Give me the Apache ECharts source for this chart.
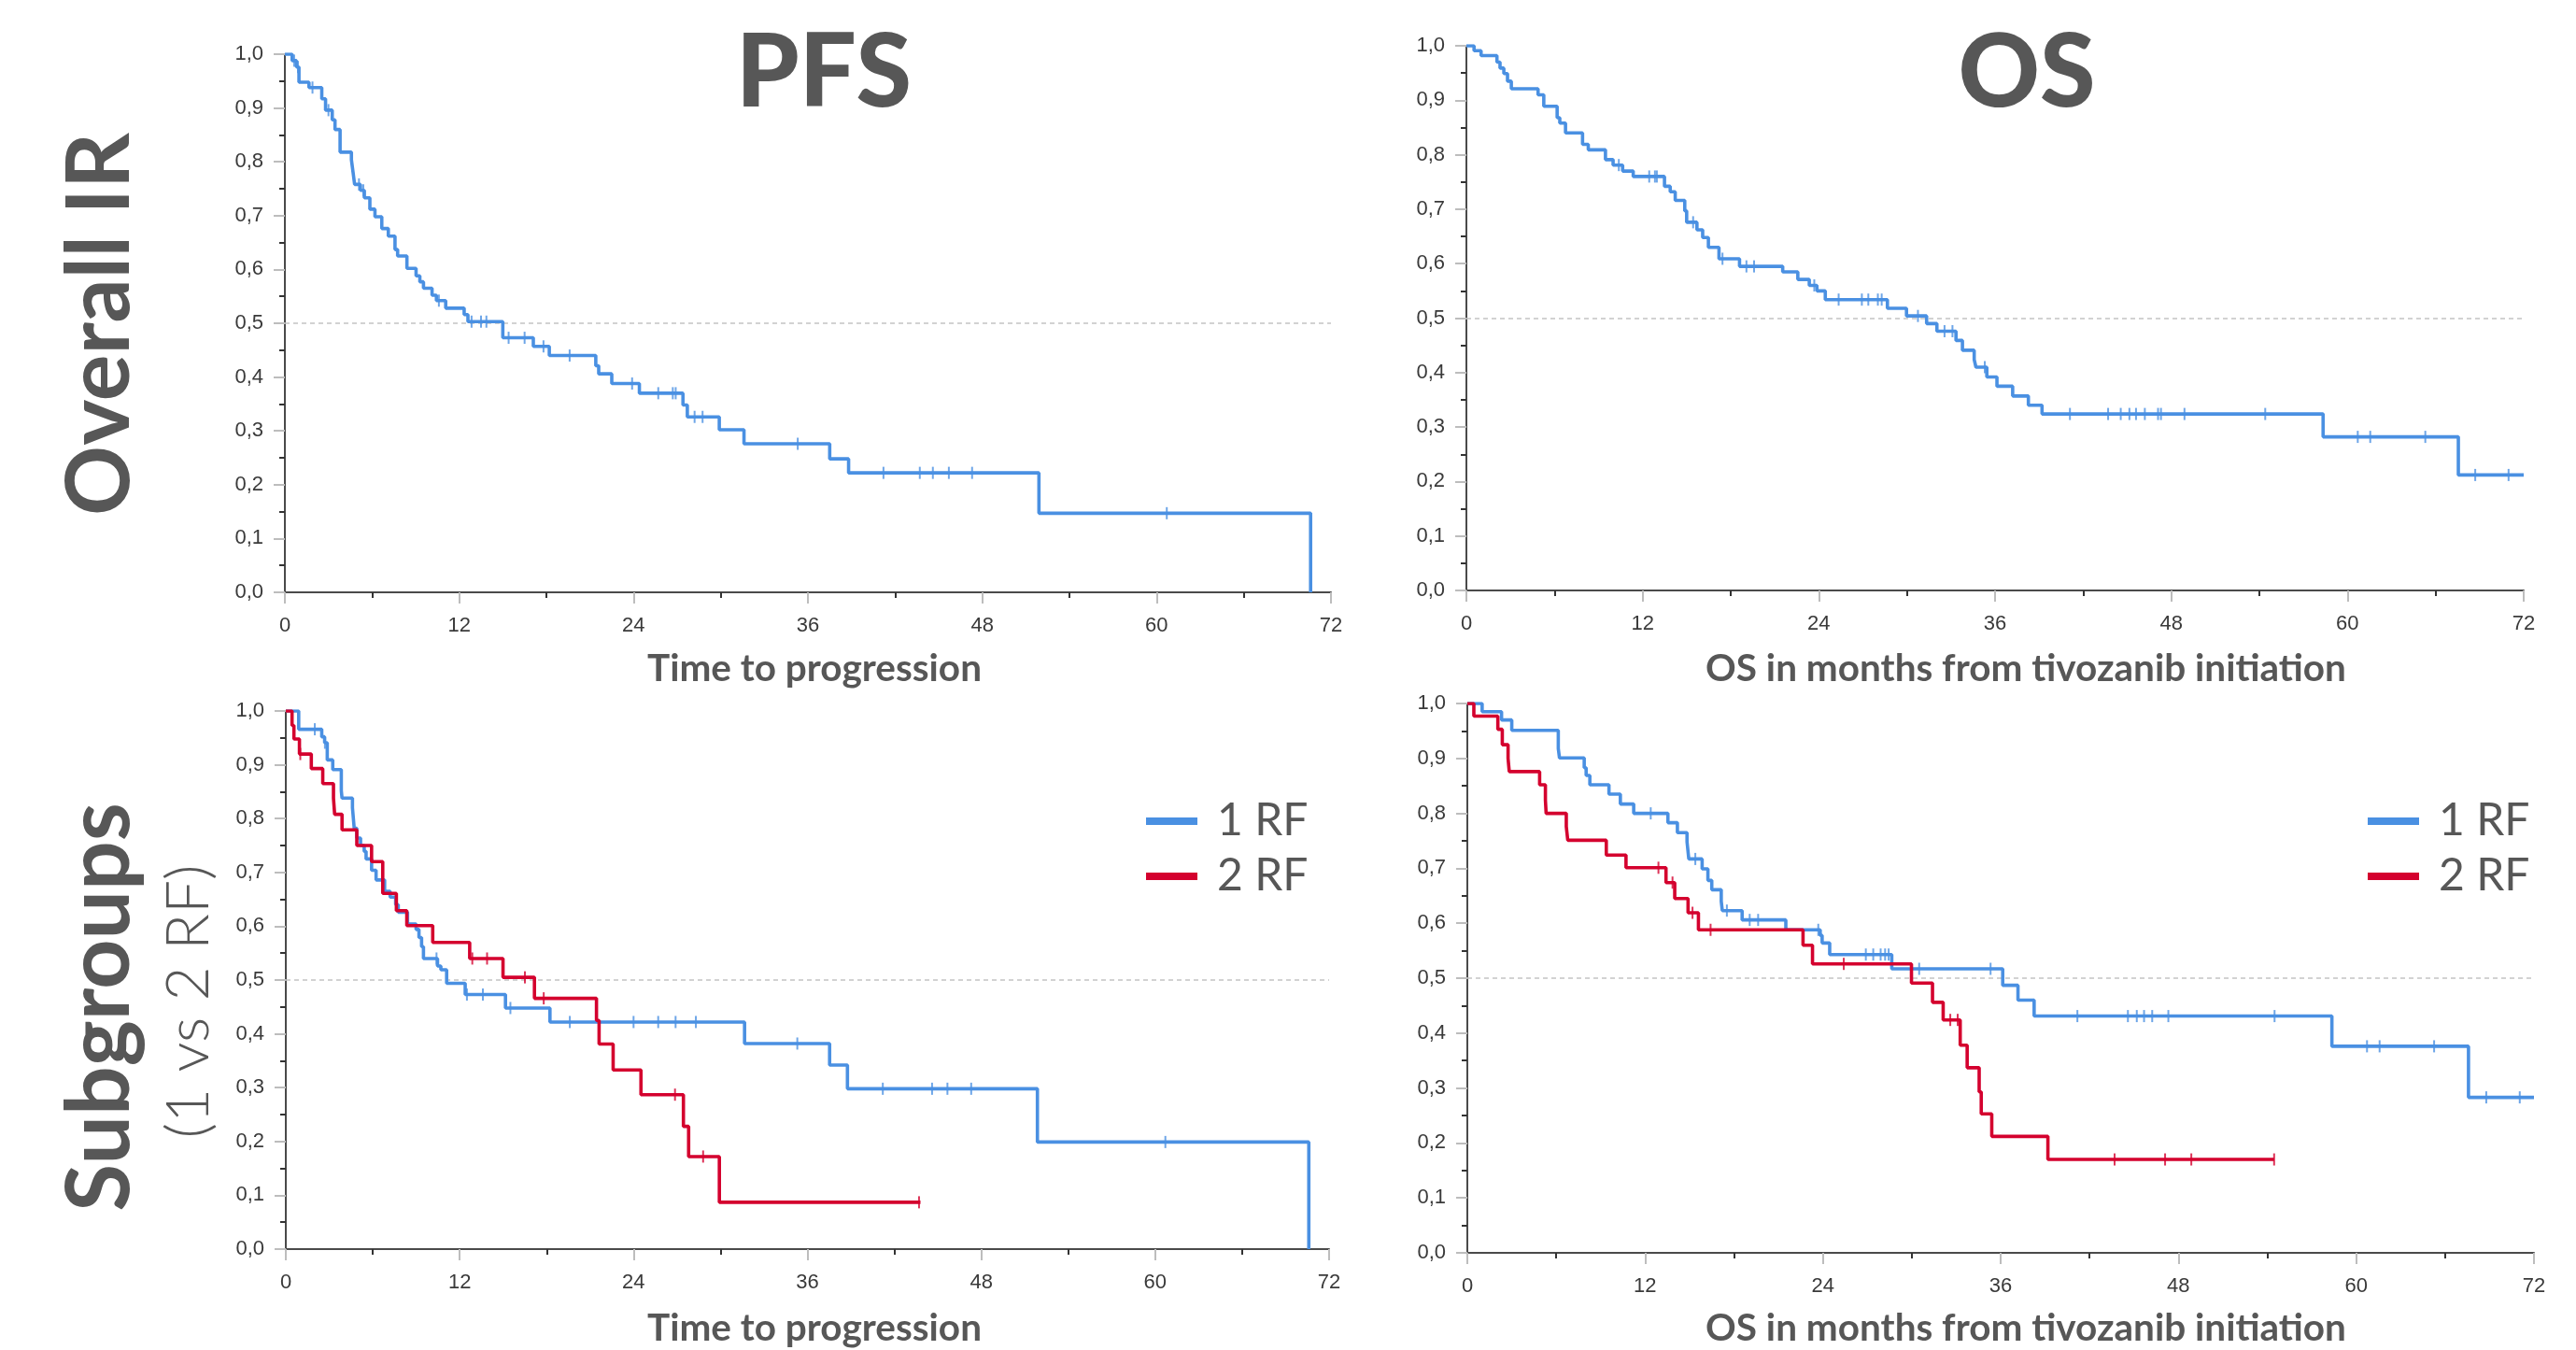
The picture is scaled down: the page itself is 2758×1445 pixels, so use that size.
<!DOCTYPE html>
<html>
<head>
<meta charset="utf-8">
<script src="https://cdn.jsdelivr.net/npm/echarts@6/dist/echarts.min.js"></script>
<style>
html,body{margin:0;padding:0;background:#fff;}
#chart{width:2758px;height:1445px;}
</style>
</head>
<body>
<div id="chart"></div>
<script>
// ---------------- DATA ----------------
const xTicks = [0, 12, 24, 36, 48, 60, 72];
const yTicks = [0, 0.1, 0.2, 0.3, 0.4, 0.5, 0.6, 0.7, 0.8, 0.9, 1.0];

// Overall IR – PFS (months, survival after each step)
const pfsAllTime = [0, 0.5, 0.8, 0.97, 1.66, 2.54, 2.8, 3.26, 3.45, 3.8, 4.58, 4.7, 4.8, 5.2, 5.47, 5.85, 6.2, 6.67, 7.12, 7.58, 7.76, 8.4, 9.03, 9.29, 9.54, 10.13, 10.43, 11.07, 12.34, 12.6, 15.0, 17.1, 18.2, 21.4, 21.6, 22.5, 24.4, 27.4, 27.7, 29.9, 31.6, 37.5, 38.8, 51.9, 70.6];
const pfsAllSurv = [1, 0.988, 0.976, 0.948, 0.938, 0.917, 0.896, 0.878, 0.86, 0.818, 0.804, 0.779, 0.758, 0.747, 0.733, 0.712, 0.698, 0.676, 0.662, 0.637, 0.625, 0.602, 0.588, 0.577, 0.565, 0.552, 0.542, 0.528, 0.516, 0.503, 0.473, 0.457, 0.44, 0.421, 0.406, 0.388, 0.37, 0.348, 0.326, 0.302, 0.276, 0.248, 0.222, 0.147, 0];
const pfsAllCens = [0.64, 0.9, 1.9, 3.0, 5.1, 5.4, 10.6, 12.85, 13.5, 13.87, 15.4, 16.5, 17.8, 19.6, 23.9, 25.7, 26.7, 26.9, 28.2, 28.75, 35.3, 41.2, 43.7, 44.6, 45.7, 47.3, 60.7];

// Overall IR – OS
const osAllTime = [0, 0.52, 1.0, 2.08, 2.29, 2.55, 2.8, 3.06, 4.88, 5.27, 6.18, 6.36, 6.75, 7.91, 8.3, 9.47, 9.99, 10.64, 11.36, 13.49, 13.88, 14.22, 14.87, 15.0, 15.7, 16.09, 16.48, 17.2, 18.6, 21.54, 22.57, 23.35, 23.87, 24.44, 28.67, 29.97, 31.34, 32.04, 33.34, 33.78, 34.58, 34.7, 35.44, 36.13, 37.2, 38.27, 39.2, 58.34, 67.55, 72];
const osAllSurv = [1, 0.991, 0.982, 0.97, 0.959, 0.949, 0.935, 0.921, 0.91, 0.889, 0.868, 0.858, 0.84, 0.819, 0.809, 0.791, 0.781, 0.77, 0.76, 0.742, 0.732, 0.716, 0.697, 0.676, 0.662, 0.648, 0.63, 0.609, 0.595, 0.585, 0.571, 0.56, 0.55, 0.534, 0.518, 0.504, 0.49, 0.476, 0.459, 0.441, 0.424, 0.41, 0.392, 0.375, 0.357, 0.34, 0.324, 0.282, 0.212, 0.212];
const osAllCens = [10.38, 12.45, 12.84, 12.97, 15.44, 17.44, 19.07, 19.59, 23.69, 25.35, 26.93, 27.37, 28.02, 28.28, 30.75, 32.56, 33.1, 35.3, 41.1, 43.7, 44.56, 45.15, 45.6, 46.2, 47.1, 47.3, 48.9, 54.4, 60.7, 61.55, 65.3, 68.7, 70.97];

// Subgroups – PFS, 1 RF
const pfs1Time = [0, 0.89, 2.48, 2.68, 2.86, 3.24, 3.83, 3.88, 4.6, 4.72, 4.9, 5.16, 5.41, 5.54, 5.92, 6.23, 6.82, 7.2, 7.58, 7.76, 8.4, 8.99, 9.19, 9.37, 9.5, 10.47, 10.7, 11.1, 12.38, 15.16, 18.23, 31.66, 37.53, 38.76, 51.87, 70.6];
const pfs1Surv = [1, 0.966, 0.952, 0.941, 0.909, 0.891, 0.852, 0.838, 0.82, 0.782, 0.764, 0.75, 0.739, 0.725, 0.704, 0.686, 0.665, 0.654, 0.64, 0.626, 0.604, 0.594, 0.579, 0.562, 0.54, 0.526, 0.519, 0.494, 0.473, 0.448, 0.422, 0.382, 0.342, 0.298, 0.199, 0];
const pfs1Cens = [2.0, 2.7, 10.4, 12.5, 13.6, 15.5, 19.6, 24.0, 25.7, 26.9, 28.3, 35.3, 41.2, 44.6, 45.66, 47.3, 60.7];

// Subgroups – PFS, 2 RF
const pfs2Time = [0, 0.43, 0.56, 0.94, 1.76, 2.55, 3.29, 3.37, 3.88, 4.9, 5.92, 6.69, 7.63, 8.35, 10.14, 12.69, 14.99, 17.16, 21.44, 21.62, 22.59, 24.51, 27.44, 27.8, 29.92, 43.8];
const pfs2Surv = [1, 0.973, 0.948, 0.92, 0.893, 0.865, 0.838, 0.808, 0.779, 0.75, 0.72, 0.661, 0.629, 0.601, 0.57, 0.54, 0.505, 0.466, 0.425, 0.381, 0.333, 0.287, 0.228, 0.172, 0.087, 0.087];
const pfs2Cens = [1.0, 12.87, 13.89, 16.5, 17.8, 26.86, 28.8, 43.7];

// Subgroups – OS, 1 RF
const os1Time = [0, 1.0, 2.31, 3.0, 6.14, 6.22, 7.89, 8.02, 8.27, 9.56, 10.33, 11.23, 13.54, 14.18, 14.83, 14.95, 15.85, 16.24, 16.5, 17.14, 17.21, 18.55, 21.5, 23.82, 23.95, 24.46, 28.65, 36.14, 37.17, 38.26, 58.36, 67.58, 72];
const os1Surv = [1, 0.985, 0.97, 0.951, 0.918, 0.901, 0.883, 0.869, 0.852, 0.835, 0.817, 0.8, 0.783, 0.765, 0.748, 0.717, 0.699, 0.678, 0.661, 0.64, 0.623, 0.606, 0.588, 0.578, 0.564, 0.543, 0.517, 0.487, 0.46, 0.431, 0.376, 0.283, 0.283];
const os1Cens = [12.38, 15.39, 17.52, 19.06, 19.63, 23.69, 26.9, 27.4, 27.9, 28.2, 28.44, 30.5, 35.32, 41.18, 44.59, 45.19, 45.68, 46.23, 47.32, 54.49, 60.73, 61.58, 65.26, 68.78, 71.04];

// Subgroups – OS, 2 RF
const os2Time = [0, 0.44, 2.06, 2.36, 2.75, 2.83, 4.88, 5.27, 5.32, 6.68, 6.78, 9.38, 10.71, 13.41, 14.0, 14.9, 15.6, 22.66, 23.3, 29.98, 31.4, 32.12, 33.27, 33.74, 34.55, 34.69, 35.4, 39.19, 54.46];
const os2Surv = [1, 0.977, 0.953, 0.925, 0.9, 0.876, 0.852, 0.824, 0.8, 0.776, 0.751, 0.724, 0.701, 0.674, 0.645, 0.619, 0.588, 0.56, 0.526, 0.491, 0.456, 0.424, 0.378, 0.337, 0.293, 0.253, 0.212, 0.17, 0.17];
const os2Cens = [12.9, 13.85, 15.2, 16.42, 25.41, 32.6, 33.1, 43.69, 47.1, 48.87, 54.46];

const groupNames = ['1 RF', '2 RF'];

// ---------------- STYLE ----------------
const BLUE = '#4A90E2';
const RED = '#D4002E';
const TEXT = '#575757';
const grids = [
  {left: 305, top: 58, width: 1120, height: 576},
  {left: 1570, top: 49, width: 1132, height: 583},
  {left: 306, top: 761, width: 1117, height: 576},
  {left: 1571, top: 753, width: 1142, height: 588}
];

function stepData(times, surv) { return times.map((t, i) => [t, surv[i]]); }
function survAt(times, surv, t) {
  let s = surv[0];
  for (let i = 0; i < times.length; i++) { if (times[i] <= t) s = surv[i]; }
  return s;
}
function censData(times, surv, cens) { return cens.map(t => [t, survAt(times, surv, t)]); }

function xAxisFor(i) {
  return {
    gridIndex: i, type: 'value', min: xTicks[0], max: xTicks[xTicks.length - 1], interval: xTicks[1] - xTicks[0],
    axisLine: {show: true, lineStyle: {color: '#4a4a4a', width: 2}},
    axisTick: {show: true, length: 12, lineStyle: {color: '#bdbdbd', width: 2}},
    minorTick: {show: true, splitNumber: 2, length: 6, lineStyle: {color: '#333', width: 2}},
    splitLine: {show: false},
    axisLabel: {margin: 25, fontSize: 22, color: '#3a3a3a', fontFamily: 'Liberation Sans'}
  };
}
function yAxisFor(i) {
  return {
    gridIndex: i, type: 'value', min: yTicks[0], max: yTicks[yTicks.length - 1], interval: yTicks[1] - yTicks[0],
    axisLine: {show: true, lineStyle: {color: '#4a4a4a', width: 2}},
    axisTick: {show: true, length: 12, lineStyle: {color: '#bdbdbd', width: 2}},
    minorTick: {show: true, splitNumber: 2, length: 6, lineStyle: {color: '#333', width: 2}},
    splitLine: {show: false},
    axisLabel: {margin: 23, fontSize: 22, color: '#3a3a3a', fontFamily: 'Liberation Sans',
      formatter: v => v.toFixed(1).replace('.', ',')}
  };
}
function lineSeries(name, gi, times, surv, color, withMark) {
  const s = {
    name: name, type: 'line', xAxisIndex: gi, yAxisIndex: gi, step: 'end',
    data: stepData(times, surv), showSymbol: false, symbol: 'none', silent: true, z: 3,
    lineStyle: {color: color, width: 3.6}, itemStyle: {color: color}
  };
  if (withMark) {
    s.markLine = {silent: true, symbol: 'none', label: {show: false}, z: 1,
      lineStyle: {color: '#c4c4c4', type: [5, 4], width: 1.5},
      data: [{yAxis: 0.5}]};
  }
  return s;
}
function censSeries(name, gi, times, surv, cens, color) {
  return {
    name: name, type: 'scatter', xAxisIndex: gi, yAxisIndex: gi, silent: true, z: 4,
    symbol: 'rect', symbolSize: [2, 13], itemStyle: {color: color},
    data: censData(times, surv, cens)
  };
}

const series = [
  lineSeries('Overall PFS', 0, pfsAllTime, pfsAllSurv, BLUE, true),
  censSeries('Overall PFS censored', 0, pfsAllTime, pfsAllSurv, pfsAllCens, BLUE),
  lineSeries('Overall OS', 1, osAllTime, osAllSurv, BLUE, true),
  censSeries('Overall OS censored', 1, osAllTime, osAllSurv, osAllCens, BLUE),
  lineSeries(groupNames[0], 2, pfs1Time, pfs1Surv, BLUE, true),
  lineSeries(groupNames[1], 2, pfs2Time, pfs2Surv, RED, false),
  censSeries('PFS 1 RF censored', 2, pfs1Time, pfs1Surv, pfs1Cens, BLUE),
  censSeries('PFS 2 RF censored', 2, pfs2Time, pfs2Surv, pfs2Cens, RED),
  lineSeries(groupNames[0], 3, os1Time, os1Surv, BLUE, true),
  lineSeries(groupNames[1], 3, os2Time, os2Surv, RED, false),
  censSeries('OS 1 RF censored', 3, os1Time, os1Surv, os1Cens, BLUE),
  censSeries('OS 2 RF censored', 3, os2Time, os2Surv, os2Cens, RED)
];

function legendAt(left) {
  return {
    data: groupNames, orient: 'vertical', left: left, top: 850,
    itemWidth: 55, itemHeight: 8, itemGap: 11, icon: 'rect',
    selectedMode: false,
    textStyle: {fontFamily: 'Lato', fontSize: 48, color: TEXT, padding: [0, 0, 0, 16]}
  };
}

function txt(x, y, text, size, weight, rot) {
  return {type: 'text', x: x, y: y, rotation: rot || 0, silent: true,
    style: {text: text, fontFamily: 'Lato', fontSize: size, fontWeight: weight, fill: TEXT,
      align: 'center', verticalAlign: 'middle'}};
}

const option = {
  animation: false,
  backgroundColor: '#ffffff',
  grid: grids,
  xAxis: [0, 1, 2, 3].map(xAxisFor),
  yAxis: [0, 1, 2, 3].map(yAxisFor),
  legend: [legendAt(1222), legendAt(2530)],
  series: series,
  graphic: [
    txt(882, 79, 'PFS', 108, 900),
    txt(2170, 79, 'OS', 108, 900),
    txt(872, 716, 'Time to progression', 40.5, 'bold'),
    txt(2169, 716, 'OS in months from tivozanib initiation', 40.5, 'bold'),
    txt(872, 1422, 'Time to progression', 40.5, 'bold'),
    txt(2169, 1422, 'OS in months from tivozanib initiation', 40.5, 'bold'),
    txt(108, 347, 'Overall IR', 93, 'bold', Math.PI / 2),
    txt(108, 1078, 'Subgroups', 93, 'bold', Math.PI / 2),
    txt(202, 1072, '(1 vs 2 RF)', 64, 300, Math.PI / 2)
  ]
};

const chart = echarts.init(document.getElementById('chart'), null, {renderer: 'canvas'});
chart.setOption(option);
</script>
</body>
</html>
